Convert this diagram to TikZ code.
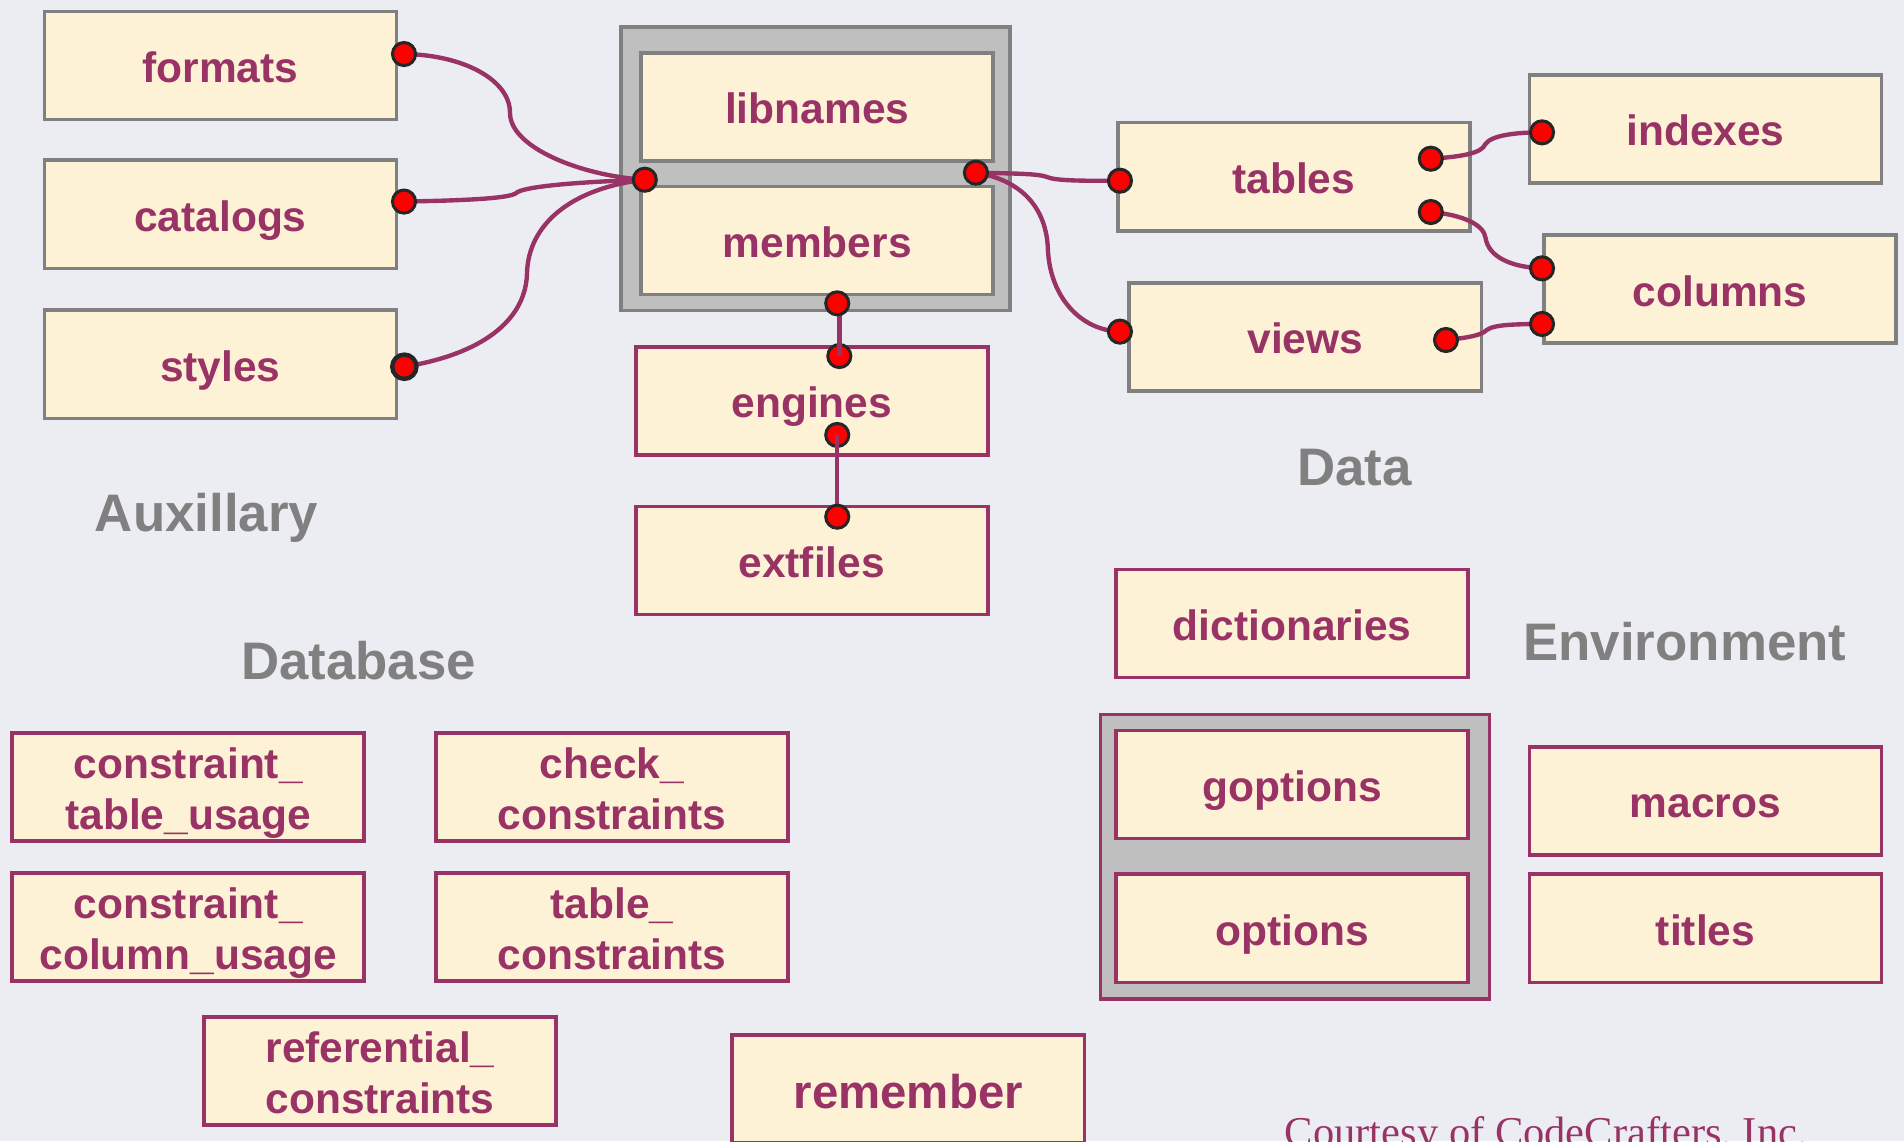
\documentclass[tikz,border=0pt]{standalone}
\usepackage{fontspec}
\setmainfont{Liberation Sans}
\newfontfamily\courtfont{Liberation Serif}
\definecolor{bg}{RGB}{236,237,242}
\definecolor{parch}{RGB}{253,242,214}
\definecolor{maroon}{RGB}{153,51,102}
\definecolor{frameg}{RGB}{128,128,128}
\definecolor{grpfill}{RGB}{191,191,191}
\definecolor{dotout}{RGB}{38,38,38}
\begin{document}
\begin{tikzpicture}[x=1pt,y=-1pt,
  box/.style={rectangle, fill=parch, line width=3pt, minimum width=290pt, minimum height=89pt, inner sep=0pt,
    font=\fontsize{35}{42}\selectfont\bfseries, text=maroon, text height=28pt, text depth=0pt, align=center},
  graybox/.style={box, draw=frameg},
  redbox/.style={box, draw=maroon},
  twoline/.style={redbox, text height=70pt, text depth=0pt},
  grp/.style={rectangle, fill=grpfill, line width=2.8pt, inner sep=0pt},
  grplabel/.style={font=\fontsize{43.5}{50}\selectfont\bfseries, text=frameg, anchor=base, inner sep=0pt},
  dot/.style={circle, fill=red, draw=dotout, line width=2.5pt, minimum size=19pt, inner sep=0pt},
  bigdot/.style={dot, line width=3.6pt, minimum size=20pt},
  conn/.style={draw=maroon, line width=3.6pt},
]
\useasboundingbox (0,0) rectangle (1568,940);
\clip (0,0) rectangle (1568,940);
\fill[bg] (0,0) rectangle (1568,940);

% Auxillary
\node[graybox] (formats) at (181.5,54) {formats};
\node[graybox] (catalogs) at (181.5,176.5) {catalogs};
\node[graybox] (styles) at (181.5,300) {styles};
\node[grplabel] (auxlbl) at (170,437.3) {Auxillary};

% libnames / members group
\node[grp, draw=frameg, minimum width=320.5pt, minimum height=233.5pt] (libgrp) at (671.5,139) {};
\node[graybox] (libnames) at (673,88) {libnames};
\node[graybox] (members) at (673,198) {members};
\node[redbox] (engines) at (668.5,330) {engines};
\node[redbox] (extfiles) at (668.5,461.5) {extfiles};

% Data
\node[graybox] (tables) at (1065.5,145.5) {tables};
\node[graybox] (views) at (1075,277.5) {views};
\node[graybox] (indexes) at (1404.5,106) {indexes};
\node[graybox] (columns) at (1416.5,238) {columns};
\node[grplabel] (datalbl) at (1115.5,400) {Data};

% Environment
\node[redbox] (dictionaries) at (1064,513.5) {dictionaries};
\node[grplabel] (envlbl) at (1387.5,544) {Environment};
\node[grp, draw=maroon, minimum width=320.5pt, minimum height=234.5pt] (optgrp) at (1066.5,705.5) {};
\node[redbox] (goptions) at (1064,646) {goptions};
\node[redbox] (options) at (1064,764.5) {options};
\node[redbox] (macros) at (1404.5,659.5) {macros};
\node[redbox] (titles) at (1404.5,764.5) {titles};

% Database
\node[grplabel] (dblbl) at (295.2,559.4) {Database};
\node[twoline] (ctu) at (155,648) {constraint\_\\table\_usage};
\node[twoline] (chk) at (504,648) {check\_\\constraints};
\node[twoline] (ccu) at (155,763.5) {constraint\_\\column\_usage};
\node[twoline] (tcon) at (504,763.5) {table\_\\constraints};
\node[twoline] (rcon) at (313,882) {referential\_\\constraints};
\node[redbox, font=\fontsize{39}{46}\selectfont\bfseries, text height=31pt] (remember) at (748,897) {remember};

\node[anchor=base west, inner sep=0pt, font=\courtfont\fontsize{35}{42}\selectfont, text=maroon] (court) at (1058,944) {Courtesy of CodeCrafters, Inc.};

% connector end points
\coordinate (pFor) at (332.7,44.5);
\coordinate (pCat) at (332.7,166);
\coordinate (pSty) at (333,302);
\coordinate (pJin) at (531,148);
\coordinate (pLib) at (803.7,142.2);
\coordinate (pMem) at (689.5,249.8);
\coordinate (pEngT) at (691.2,293.2);
\coordinate (pEngB) at (689.5,358.2);
\coordinate (pExt) at (689.5,425.5);
\coordinate (pTabL) at (922.3,148.8);
\coordinate (pTabU) at (1178.3,130.7);
\coordinate (pTabD) at (1178.3,174.6);
\coordinate (pIdx) at (1269.9,109);
\coordinate (pColU) at (1269.9,221);
\coordinate (pColD) at (1269.9,266.8);
\coordinate (pViewL) at (922.3,273.1);
\coordinate (pViewR) at (1190.8,280);

% curves
\draw[conn] (pFor) .. controls (380,45) and (420,65) .. (420,93) .. controls (420,122) and (480,145) .. (pJin);
\draw[conn] (pCat) .. controls (390,165) and (420,163) .. (425,159) .. controls (430,154) and (470,150) .. (pJin);
\draw[conn] (pJin) .. controls (470,155) and (435,185) .. (434,225) .. controls (433,265) and (395,292) .. (pSty);
\draw[conn] (pLib) .. controls (840,143) and (855,143) .. (863,146) .. controls (870,149) and (895,149) .. (pTabL);
\draw[conn] (pLib) .. controls (840,148) and (862,170) .. (863,206) .. controls (865,245) and (890,272) .. (pViewL);
\draw[conn] (pTabU) .. controls (1205,129) and (1220,126) .. (1223,119) .. controls (1228,111) and (1250,109) .. (pIdx);
\draw[conn] (pTabD) .. controls (1205,177) and (1222,185) .. (1223.4,196) .. controls (1226,212) and (1245,220) .. (pColU);
\draw[conn] (pViewR) .. controls (1210,278) and (1220,276) .. (1224,272) .. controls (1230,267) and (1250,267) .. (pColD);

% dots
\node[dot] (dFor) at (pFor) {};
\node[dot] (dCat) at (pCat) {};
\node[bigdot] (dSty) at (pSty) {};
\node[dot] (dJin) at (pJin) {};
\node[dot] (dLib) at (pLib) {};
\node[dot] (dTabL) at (pTabL) {};
\node[dot] (dTabU) at (pTabU) {};
\node[dot] (dTabD) at (pTabD) {};
\node[dot] (dIdx) at (pIdx) {};
\node[dot] (dColU) at (pColU) {};
\node[dot] (dColD) at (pColD) {};
\node[dot] (dViewL) at (pViewL) {};
\node[dot] (dViewR) at (pViewR) {};

% vertical links
\node[dot] (dEngT) at (pEngT) {};
\draw[conn] (pMem -| pEngT) -- (dEngT.center);
\node[dot] (dMem) at (pMem) {};
\node[dot] (dEngB) at (pEngB) {};
\draw[conn] (dEngB.center) -- (pExt);
\node[dot] (dExt) at (pExt) {};
\end{tikzpicture}
\end{document}
